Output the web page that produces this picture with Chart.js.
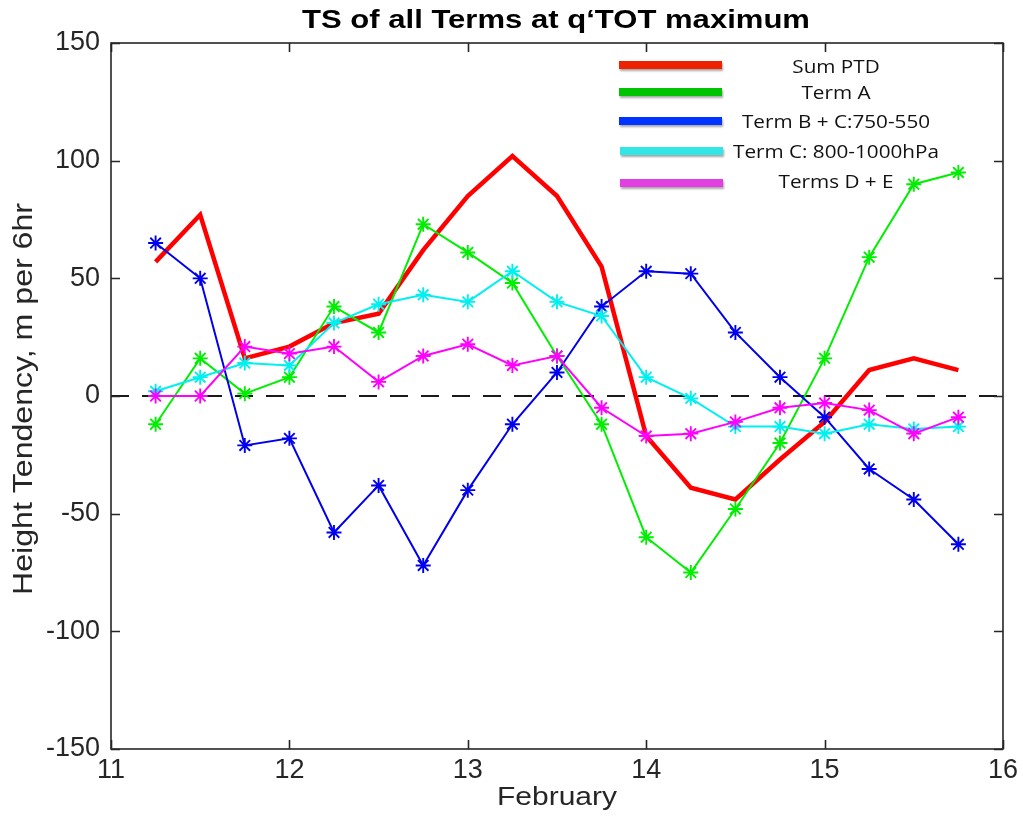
<!DOCTYPE html>
<html><head><meta charset="utf-8">
<script src="https://cdn.jsdelivr.net/npm/chart.js@4.4.0/dist/chart.umd.min.js"></script>
<style>html,body{margin:0;padding:0;background:#fff;}canvas{display:block;}</style>
</head><body>
<canvas id="c" width="1023" height="821"></canvas>
<script>
// ---- data ----
const days   = [11.25,11.5,11.75,12,12.25,12.5,12.75,13,13.25,13.5,13.75,14,14.25,14.5,14.75,15,15.25,15.5,15.75];
const sumPTD = [57,77,16,21,31,35,62,85,102,85,55,-17,-39,-44,-27,-11,11,16,11];
const termA  = [-12,16,1,8,38,27,73,61,48,17,-12,-60,-75,-48,-20,16,59,90,95];
const termBC = [65,50,-21,-18,-58,-38,-72,-40,-12,10,38,53,52,27,8,-9,-31,-44,-63];
const termC  = [2,8,14,13,31,39,43,40,53,40,34,8,-1,-13,-13,-16,-12,-14,-13];
const termDE = [0,0,21,18,21,6,17,22,13,17,-5,-17,-16,-11,-5,-3,-6,-16,-9];
const zeroX  = [11,16];
const zeroY  = [0,0];
const xTicks = [11,12,13,14,15,16];
const yTicks = [-150,-100,-50,0,50,100,150];
const seriesNames = ['Sum PTD','Term A','Term B + C:750-550','Term C: 800-1000hPa','Terms D + E'];
const titleText = 'TS of all Terms at q\u2018TOT maximum';
const xTitleText = 'February';
const yTitleText = 'Height Tendency, m per 6hr';

const lineColors   = ['#ff0000','#00ee00','#0000ee','#00f0f0','#ff00ff'];
const legendColors = ['#ee2200','#00c400','#0033ff','#33e6e6','#e23ee2'];

const pts = (xs, ys) => xs.map((x,i)=>({x:x, y:ys[i]}));

function series(label, ys, color, order, withPts, width){
  return {
    label: label, data: pts(days, ys), borderColor: color, backgroundColor: color,
    borderWidth: width, pointStyle: 'star', pointRadius: withPts ? 7.5 : 0,
    pointBorderWidth: 1.9, pointBorderColor: color, pointHoverRadius: withPts?7.5:0,
    tension: 0, order: order, fill: false
  };
}

const datasets = [
  {label:'zero', data: pts(zeroX, zeroY), borderColor:'#1a1a1a', borderWidth:2,
   borderDash:[18,13], pointRadius:0, order: 10, fill:false},
  series(seriesNames[0], sumPTD, lineColors[0], 5, false, 4.5),
  series(seriesNames[1], termA,  lineColors[1], 4, true, 2),
  series(seriesNames[2], termBC, lineColors[2], 3, true, 2),
  series(seriesNames[3], termC,  lineColors[3], 2, true, 2),
  series(seriesNames[4], termDE, lineColors[4], 1, true, 2)
];

function stretchedText(ctx, text, font, cx, cy, sx, rotate, baseline){
  ctx.save();
  ctx.font = font;
  ctx.translate(cx, cy);
  if (rotate) ctx.rotate(-Math.PI/2);
  ctx.scale(sx, 1);
  ctx.textAlign = 'center';
  ctx.textBaseline = baseline || 'alphabetic';
  ctx.fillText(text, 0, 0);
  ctx.restore();
}
function fitScale(ctx, text, font, targetW){
  ctx.save(); ctx.font = font;
  const w = ctx.measureText(text).width;
  ctx.restore();
  return targetW / w;
}

const decor = {
  id: 'decor',
  afterDatasetsDraw(chart){
    const ctx = chart.ctx, a = chart.chartArea;
    const xs = chart.scales.x, ys = chart.scales.y;
    ctx.save();
    ctx.strokeStyle = '#262626';
    ctx.lineWidth = 1.6;
    ctx.strokeRect(a.left, a.top, a.right - a.left, a.bottom - a.top);
    const tl = 9;
    ctx.beginPath();
    xTicks.forEach(v => {
      const px = Math.round(xs.getPixelForValue(v)) + 0.5;
      ctx.moveTo(px, a.bottom); ctx.lineTo(px, a.bottom - tl);
      ctx.moveTo(px, a.top); ctx.lineTo(px, a.top + tl);
    });
    yTicks.forEach(v => {
      const py = Math.round(ys.getPixelForValue(v)) + 0.5;
      ctx.moveTo(a.left, py); ctx.lineTo(a.left + tl, py);
      ctx.moveTo(a.right, py); ctx.lineTo(a.right - tl, py);
    });
    ctx.stroke();
    ctx.restore();
  },
  afterDraw(chart){
    const ctx = chart.ctx, a = chart.chartArea;
    ctx.save();
    ctx.fillStyle = '#000';
    const tf = 'bold 25px "Liberation Sans", Arial, sans-serif';
    stretchedText(ctx, titleText, tf, (a.left + a.right)/2 - 1, 28, fitScale(ctx, titleText, tf, 508), false);
    ctx.fillStyle = '#262626';
    const xf = '25px "Liberation Sans", Arial, sans-serif';
    stretchedText(ctx, xTitleText, xf, 557, 805, fitScale(ctx, xTitleText, xf, 120), false);
    const yf = '28px "Liberation Sans", Arial, sans-serif';
    stretchedText(ctx, yTitleText, yf, 32, 399, fitScale(ctx, yTitleText, yf, 392), true);

    // legend
    const rowsY = [65, 92, 121, 151, 183];
    const textY = [68, 94, 123, 153, 183];
    const lf = '19px "Open Sans", "Noto Sans", sans-serif';
    const lsx = fitScale(ctx, 'Term C: 800-1000hPa', lf, 206);
    seriesNames.forEach((name, i) => {
      ctx.save();
      ctx.shadowColor = 'rgba(0,0,0,0.35)';
      ctx.shadowOffsetY = 1.5; ctx.shadowOffsetX = 0.5; ctx.shadowBlur = 2;
      ctx.strokeStyle = legendColors[i];
      ctx.lineWidth = 8;
      ctx.beginPath();
      const x0 = i >= 3 ? 620 : 619;
      ctx.moveTo(x0, rowsY[i]); ctx.lineTo(x0 + 103, rowsY[i]);
      ctx.stroke();
      ctx.restore();
      ctx.fillStyle = '#111';
      stretchedText(ctx, name, lf, 836, textY[i], lsx, false, 'middle');
    });
    ctx.restore();
  }
};

new Chart(document.getElementById('c'), {
  type: 'line',
  data: { datasets: datasets },
  options: {
    responsive: false, animation: false, devicePixelRatio: 1,
    layout: { padding: { left: 0, top: 43, right: 20, bottom: 0 } },
    plugins: { legend: { display: false }, title: { display: false }, tooltip: { enabled: false } },
    scales: {
      x: {
        type: 'linear', min: 11, max: 16,
        grid: { display: false, drawTicks: false }, border: { display: false },
        afterBuildTicks: s => { s.ticks = xTicks.map(v => ({value: v})); },
        afterFit: s => { s.height = 72; },
        ticks: { color: '#262626', padding: 5, font: { family: '"Liberation Sans", Arial, sans-serif', size: 27 } }
      },
      y: {
        type: 'linear', min: -150, max: 150,
        grid: { display: false, drawTicks: false }, border: { display: false },
        afterBuildTicks: s => { s.ticks = yTicks.map(v => ({value: v})); },
        afterFit: s => { s.width = 111; },
        ticks: { color: '#262626', padding: 11, font: { family: '"Liberation Sans", Arial, sans-serif', size: 27 } }
      }
    }
  },
  plugins: [decor]
});
</script>
</body></html>
